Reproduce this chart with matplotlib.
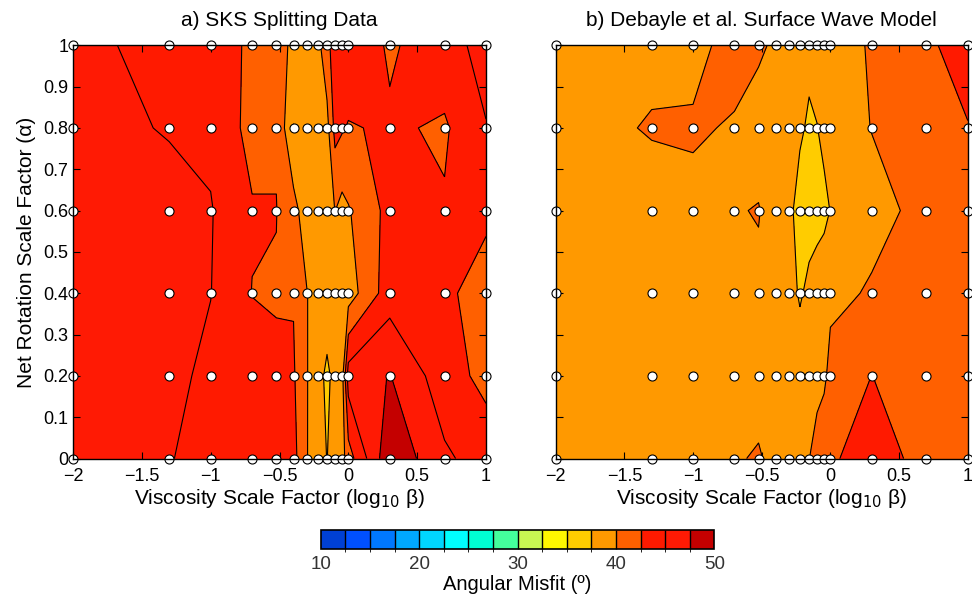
import numpy as np
import matplotlib
matplotlib.use('Agg')
import matplotlib.pyplot as plt
from matplotlib.colors import ListedColormap, BoundaryNorm
from matplotlib.cm import ScalarMappable

plt.rcParams['font.family'] = ['Liberation Sans', 'DejaVu Sans']

# grid of models: viscosity scale factor (beta) and net rotation scale factor (alpha)
beta = [0.01, 0.05, 0.1, 0.2, 0.3, 0.4, 0.5, 0.6, 0.7, 0.8, 0.9, 1.0, 2.0, 5.0, 10.0]
alpha = [0.0, 0.2, 0.4, 0.6, 0.8, 1.0]

# angular misfit (deg), one row per alpha (0 -> 1), one column per beta
sks_misfit = [
    [46.0, 45.1, 44.3, 43.6, 43.4, 43.3, 40.1, 38.5, 37.45, 38.6, 39.0, 41.4, 49.5, 45.4, 43.9],
    [46.0, 45.6, 44.5, 43.5, 42.83, 42.77, 40.1, 38.7, 36.8, 38.55, 39.0, 46.2, 47.6, 43.6, 41.8],
    [46.0, 46.0, 45.05, 42.45, 42.36, 42.36, 40.1, 38.7, 39.5, 39.3, 39.2, 38.78, 43.88, 43.0, 41.4],
    [46.0, 46.0, 45.15, 42.7, 42.55, 41.0, 38.3, 38.5, 38.6, 40.05, 39.2, 39.8, 43.3, 42.72, 43.0],
    [46.0, 44.8, 44.5, 41.7, 42.3, 37.4, 37.7, 38.8, 39.18, 43.28, 42.75, 42.3, 42.85, 42.18, 44.9],
    [46.2, 43.6, 43.4, 42.2, 41.0, 39.5, 39.0, 39.3, 41.6, 44.0, 44.3, 44.5, 42.15, 44.0, 45.85],
]

sw_misfit = [
    [39.3, 39.3, 39.2, 39.69, 40.3, 39.05, 39.0, 39.2, 39.95, 41.0, 41.8, 42.29, 43.2, 42.0, 41.5],
    [39.3, 39.2, 39.3, 39.2, 38.7, 39.0, 39.0, 39.0, 39.0, 39.2, 39.5, 40.8, 42.52, 41.5, 41.5],
    [39.3, 39.2, 39.0, 39.3, 39.4, 38.8, 38.5, 37.2, 38.1, 38.6, 38.8, 39.44, 40.22, 41.0, 41.5],
    [39.2, 39.43, 38.6, 39.8, 40.15, 38.5, 38.0, 36.7, 36.5, 36.7, 37.0, 37.55, 39.34, 40.6, 41.5],
    [39.43, 40.1, 40.6, 39.55, 38.6, 38.5, 38.5, 37.8, 37.2, 37.45, 38.0, 38.8, 40.05, 41.5, 42.45],
    [39.2, 39.65, 38.5, 41.8, 40.5, 39.5, 39.0, 38.8, 38.0, 38.3, 38.6, 39.0, 40.2, 42.3, 43.0],
]

misfit_colors = ['#0040d4', '#0050ff', '#0078ff', '#00a8ff', '#00d6ff', '#00ffff',
                 '#00ffd2', '#44ff9c', '#c8f652', '#fff700', '#ffcc00', '#ff9900',
                 '#ff6000', '#ff1a00', '#ff1a04', '#c40000']
levels = np.arange(10, 50.1, 2.5)
cmap = ListedColormap(misfit_colors)
norm = BoundaryNorm(levels, cmap.N)

xticks = [-2, -1.5, -1, -0.5, 0, 0.5, 1]
xticklabels = ['\u22122', '\u22121.5', '\u22121', '\u22120.5', '0', '0.5', '1']
yticks = [0, 0.1, 0.2, 0.3, 0.4, 0.5, 0.6, 0.7, 0.8, 0.9, 1]
yticklabels = ['0', '0.1', '0.2', '0.3', '0.4', '0.5', '0.6', '0.7', '0.8', '0.9', '1']

fig = plt.figure(figsize=(9.72, 5.99), dpi=100)
W, H = 972.0, 599.0
ax1 = fig.add_axes([73 / W, 1 - 458.5 / H, 413 / W, 413.2 / H])
ax2 = fig.add_axes([555.7 / W, 1 - 458.5 / H, 412 / W, 413.2 / H])

lx = np.log10(beta)
XX, YY = np.meshgrid(lx, alpha)

titles = ['a) SKS Splitting Data', 'b) Debayle et al. Surface Wave Model']
for ax, z, title in zip([ax1, ax2], [sks_misfit, sw_misfit], titles):
    z = np.array(z)
    ax.contourf(lx, alpha, z, levels=levels, cmap=cmap, norm=norm)
    ax.contour(lx, alpha, z, levels=levels, colors='k', linewidths=0.8)
    ax.plot(XX.ravel(), YY.ravel(), 'o', mfc='white', mec='k', ms=6.5, mew=0.8,
            clip_on=False, zorder=3)
    ax.set_xlim(-2, 1)
    ax.set_ylim(0, 1)
    ax.set_xticks(xticks)
    ax.set_xticklabels(xticklabels)
    ax.set_yticks(yticks)
    ax.tick_params(direction='in', top=True, right=True, length=5, width=0.8,
                   labelsize=13, colors='k')
    ax.tick_params(axis='x', pad=7)
    for sp in ax.spines.values():
        sp.set_linewidth(1.0)
        sp.set_zorder(4)
    ax.set_xlabel('Viscosity Scale Factor (log$_{10}$ \u03b2)', fontsize=15, labelpad=1)
    ax.set_title(title, fontsize=15, pad=14,
                 family=['Liberation Sans Narrow', 'Liberation Sans', 'DejaVu Sans'])

ax1.set_yticklabels(yticklabels)
ax2.set_yticklabels([])
ax1.set_ylabel('Net Rotation Scale Factor (\u03b1)', fontsize=15, labelpad=5)

cax = fig.add_axes([320.7 / W, 1 - 549.3 / H, 393.6 / W, 19.3 / H])
sm = ScalarMappable(norm=norm, cmap=cmap)
cb = fig.colorbar(sm, cax=cax, orientation='horizontal', drawedges=True,
                  ticks=[10, 20, 30, 40, 50])
cb.outline.set_linewidth(1.2)
cb.dividers.set_linewidth(1.0)
cb.ax.tick_params(length=0, labelsize=13.5, labelcolor='#333333', pad=5)
cb.set_label('Angular Misfit (\u00ba)', fontsize=14.5, labelpad=1)

fig.savefig('out.png', dpi=100)
